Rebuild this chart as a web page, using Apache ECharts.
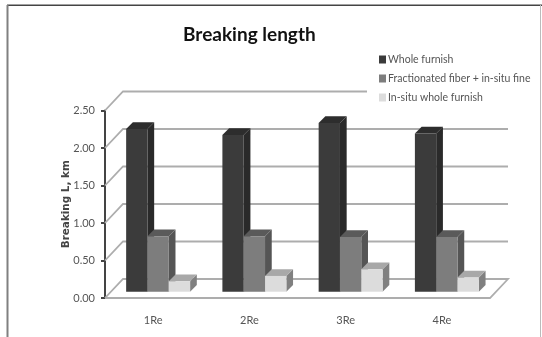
<!DOCTYPE html>
<html>
<head>
<meta charset="utf-8">
<style>html,body{margin:0;padding:0;background:#fff}#chart{width:542px;height:337px}</style>
<script src="https://cdn.jsdelivr.net/npm/echarts@6/dist/echarts.min.js"></script>
</head>
<body>
<div id="chart"></div>
<script>
// Breaking length per recycling stage, three furnish types
const categories = ['1Re', '2Re', '3Re', '4Re'];
const wholeFurnish = [2.17, 2.09, 2.25, 2.11];
const fractionatedFiber = [0.74, 0.74, 0.73, 0.73];
const inSituWhole = [0.14, 0.21, 0.30, 0.19];
const tickValues = [0, 0.5, 1, 1.5, 2, 2.5];

const font = 'Lato, "Open Sans", sans-serif';
const wallDepth = [18, -19];    // back wall offset from the front axis plane
const barDepth = [6.7, -6.6];   // extrusion of each bar
const barPlane = [5, -6.3];     // bars stand slightly behind the front plane
const barShare = 0.2215;        // bar width as a share of a category band

const chart = echarts.init(document.getElementById('chart'), null, { renderer: 'canvas' });

// Faces of one extruded bar; slot is -1, 0 or 1 inside the category band
function barRenderer(slot, front, side, top) {
  return function (params, api) {
    const base = api.coord([api.value(0), 0]);
    const tip = api.coord([api.value(0), api.value(1)]);
    const w = api.size([1, 0])[0] * barShare;
    const x0 = base[0] + barPlane[0] + (slot - 0.5) * w;
    const x1 = x0 + w;
    const y0 = base[1] + barPlane[1];
    const y1 = tip[1] + barPlane[1];
    const dx = barDepth[0], dy = barDepth[1];
    return {
      type: 'group',
      children: [
        { type: 'polygon', shape: { points: [[x1, y0], [x1 + dx, y0 + dy], [x1 + dx, y1 + dy], [x1, y1]] }, style: { fill: side } },
        { type: 'polygon', shape: { points: [[x0, y1], [x0 + dx, y1 + dy], [x1 + dx, y1 + dy], [x1, y1]] }, style: { fill: top } },
        { type: 'rect', shape: { x: x0, y: y1, width: w, height: y0 - y1 }, style: { fill: front } }
      ]
    };
  };
}

// Back wall gridline for one tick, with its slanted run to the front axis
function wallRenderer(params, api) {
  const v = api.value(0);
  const cs = params.coordSys;
  const y = api.coord([0, v])[1];
  const bx = cs.x + wallDepth[0], by = y + wallDepth[1];
  const pts = [[cs.x, y], [bx, by], [cs.x + cs.width + wallDepth[0], by]];
  if (v === 0) pts.push([cs.x + cs.width, y], [cs.x, y]);
  return {
    type: 'polyline',
    shape: { points: pts },
    style: { fill: 'none', stroke: '#adadad', lineWidth: 1.8 }
  };
}

function barSeries(name, values, slot, front, side, top) {
  return {
    name: name,
    type: 'custom',
    renderItem: barRenderer(slot, front, side, top),
    data: values.map((v, i) => [i, v]),
    encode: { x: 0, y: 1 },
    itemStyle: { color: front },
    z: 3
  };
}

chart.setOption({
  animation: false,
  backgroundColor: '#ffffff',
  title: {
    text: 'Breaking length',
    left: 183,
    top: 25,
    padding: 0,
    textStyle: { fontFamily: font, fontSize: 19, fontWeight: 'bold', color: '#111' }
  },
  legend: {
    orient: 'vertical',
    left: 367,
    top: 51,
    padding: [3, 8, 2, 12],
    backgroundColor: '#ffffff',
    itemWidth: 7,
    itemHeight: 8,
    itemGap: 8,
    icon: 'rect',
    textStyle: { fontFamily: font, fontSize: 10.5, color: '#555', padding: [0, 0, 0, -3] },
    data: ['Whole furnish', 'Fractionated fiber + in-situ fine', 'In-situ whole furnish']
  },
  grid: { left: 105, top: 110.5, width: 385, height: 187.5 },
  xAxis: {
    type: 'category',
    data: categories,
    axisLine: { show: false },
    axisTick: { show: false },
    axisLabel: { fontFamily: font, fontSize: 11, color: '#555', margin: 17 }
  },
  yAxis: {
    type: 'value',
    min: 0,
    max: 2.5,
    interval: 0.5,
    name: 'Breaking L, km',
    nameLocation: 'middle',
    nameGap: 34,
    nameMoveOverlap: false,
    nameTextStyle: { fontFamily: '"DejaVu Sans", sans-serif', fontSize: 10.4, fontWeight: 'bold', color: '#444' },
    splitLine: { show: false },
    axisLine: { show: true, lineStyle: { color: '#444', width: 2 } },
    axisTick: { show: true, length: 4, lineStyle: { color: '#444', width: 2 } },
    axisLabel: { fontFamily: font, fontSize: 11, color: '#555', margin: 10, formatter: v => v.toFixed(2) }
  },
  series: [
    {
      type: 'custom',
      renderItem: wallRenderer,
      data: tickValues.map(v => [v]),
      encode: { y: 0 },
      silent: true,
      z: 1
    },
    barSeries('Whole furnish', wholeFurnish, -1, '#3b3b3b', '#2a2a2a', '#2d2d2d'),
    barSeries('Fractionated fiber + in-situ fine', fractionatedFiber, 0, '#7d7d7d', '#555555', '#5a5a5a'),
    barSeries('In-situ whole furnish', inSituWhole, 1, '#dcdcdc', '#808080', '#a8a8a8')
  ],
  graphic: [
    { type: 'rect', shape: { x: 7, y: 4.5, width: 535, height: 1.5 }, style: { fill: '#444' }, z: 10 },
    { type: 'rect', shape: { x: 6.5, y: 5, width: 2, height: 332 }, style: { fill: '#808080' }, z: 10 },
    { type: 'rect', shape: { x: 540, y: 5, width: 1, height: 332 }, style: { fill: '#bbb' }, z: 10 }
  ]
});
</script>
</body>
</html>
